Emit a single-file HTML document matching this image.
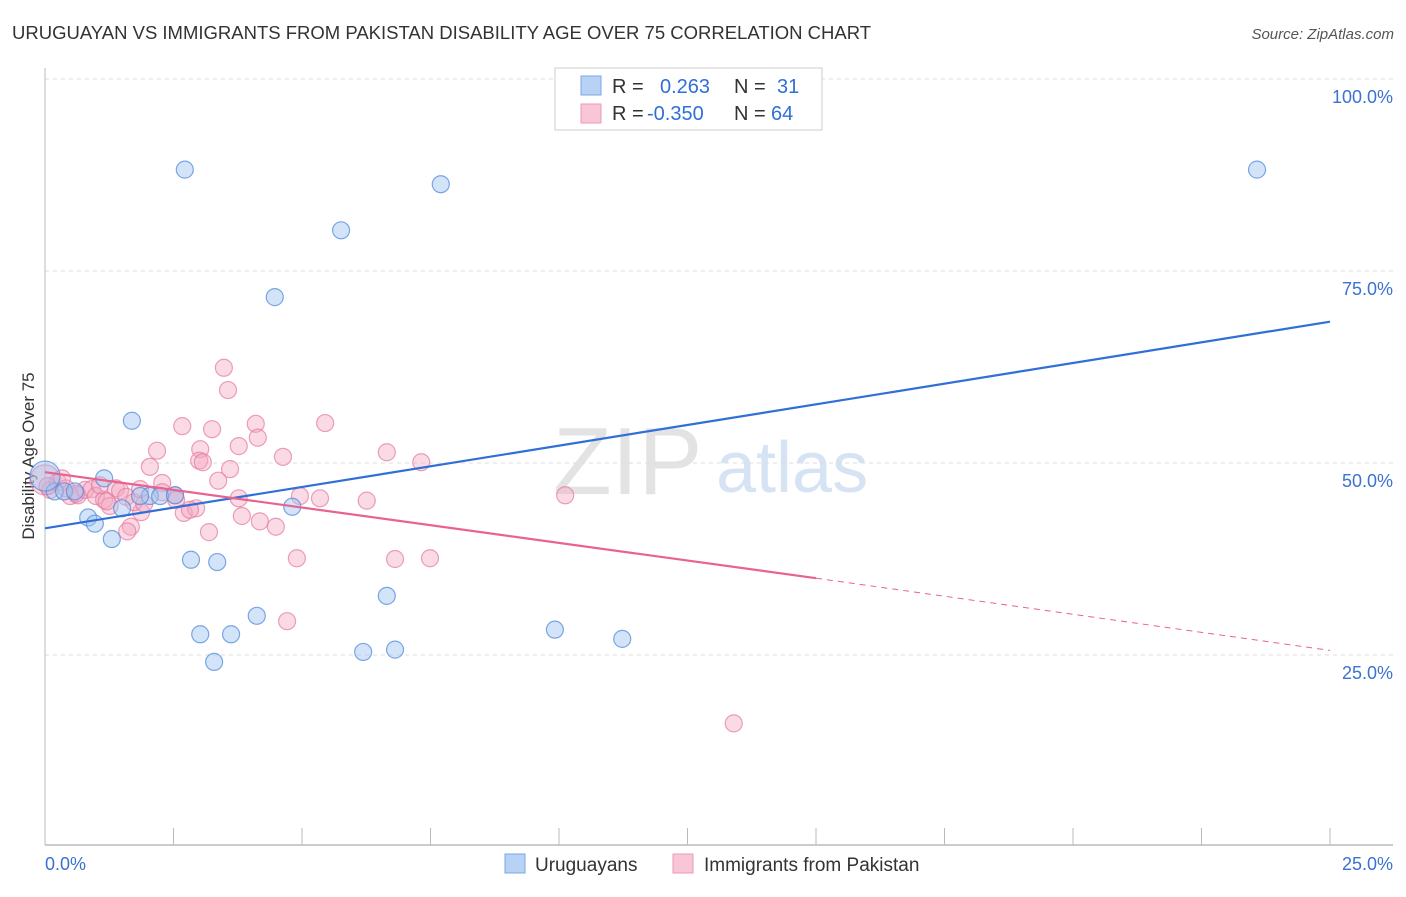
<!DOCTYPE html>
<html><head><meta charset="utf-8"><style>
body{margin:0;background:#fff;font-family:"Liberation Sans",sans-serif}
svg text{font-family:"Liberation Sans",sans-serif}
</style></head><body>
<svg id="chart" width="1406" height="892" xmlns="http://www.w3.org/2000/svg">
<text x="12" y="39" font-size="18.5" fill="#333">URUGUAYAN VS IMMIGRANTS FROM PAKISTAN DISABILITY AGE OVER 75 CORRELATION CHART</text>
<text x="1394" y="39" font-size="15" fill="#555" font-style="italic" text-anchor="end">Source: ZipAtlas.com</text>
<g>
<text x="553" y="494" font-size="96" font-family="Liberation Serif" fill="#d8d8d8" opacity="0.7">ZIP</text>
<text x="716" y="492" font-size="72" fill="#c5d8f0" opacity="0.7">atlas</text>
</g>
<g id="grid"></g>
<g id="axes"></g>
<text transform="translate(34,456) rotate(-90)" font-size="17" fill="#333" text-anchor="middle">Disability Age Over 75</text>
<g id="pts"></g>
<g id="lines"></g>
<g>
<rect x="555" y="68" width="267" height="62" fill="#fff" stroke="#ccc"/>
<rect x="581" y="76" width="20" height="19" fill="#b7d2f5" stroke="#7aa7e6"/>
<rect x="581" y="104" width="20" height="19" fill="#f9c6d6" stroke="#ec9ab5"/>
<text x="612" y="93" font-size="20" fill="#333">R = <tspan fill="#2f6fd6" x="660">0.263</tspan><tspan fill="#333" x="734">N = </tspan><tspan fill="#2f6fd6" x="777">31</tspan></text>
<text x="612" y="120" font-size="20" fill="#333">R = <tspan fill="#2f6fd6" x="647">-0.350</tspan><tspan fill="#333" x="734">N = </tspan><tspan fill="#2f6fd6" x="771">64</tspan></text>
</g>
<g>
<rect x="505" y="854" width="20" height="19" fill="#b7d2f5" stroke="#7aa7e6"/>
<text x="535" y="871" font-size="19" fill="#333">Uruguayans</text>
<rect x="673" y="854" width="20" height="19" fill="#f9c6d6" stroke="#ec9ab5"/>
<text x="704" y="871" font-size="19" fill="#333">Immigrants from Pakistan</text>
</g>
</svg>
<script>
const xTicks=[0,2.5,5,7.5,10,12.5,15,17.5,20,22.5,25];
const yTicks=[25,50,75,100];
const yTickLabels=["25.0%","50.0%","75.0%","100.0%"];
const xLabels=["0.0%","25.0%"];
const blueX=[2.72,7.70,23.58,5.76,4.47,1.69,1.15,0.19,0.37,0.58,0.84,0.97,1.30,1.50,2.04,2.24,2.53,4.81,2.84,3.35,3.02,3.62,4.12,3.29,6.65,6.19,6.81,9.92,11.23,0,1.85];
const blueY=[88.2,86.3,88.2,80.3,71.6,55.5,48.0,46.3,46.3,46.3,42.9,42.1,40.1,44.1,45.7,45.7,45.8,44.3,37.4,37.1,27.7,27.7,30.1,24.1,32.7,25.4,25.7,28.3,27.1,48.3,45.7];
const blueBig=[29];
const pinkX=[3.48,3.56,2.67,3.25,4.10,5.45,3.77,4.14,3.02,2.18,6.65,4.63,3.00,3.07,7.32,2.04,3.60,3.37,2.28,3.77,4.96,5.35,6.26,10.12,2.70,2.94,2.82,3.83,3.19,4.49,1.67,1.60,1.87,4.90,6.81,7.49,4.71,13.40,0,0.10,0.25,0.41,0.49,0.64,0.78,0.91,0.99,1.15,1.26,1.38,1.46,1.58,1.73,1.93,2.28,2.53,2.55,0.33,1.07,1.85,4.18,0.05,0.6,1.2];
const pinkY=[62.4,59.5,54.8,54.4,55.1,55.2,52.2,53.3,51.8,51.6,51.4,50.8,50.3,50.1,50.1,49.5,49.2,47.7,47.4,45.4,45.7,45.4,45.1,45.8,43.5,44.1,43.9,43.1,41.0,41.7,41.7,41.1,43.6,37.6,37.5,37.6,29.4,16.1,47.8,46.5,47.5,46.7,45.7,45.8,46.5,46.6,45.7,45.2,44.4,46.7,46.4,45.6,44.9,44.7,46.2,45.8,45.2,48.0,47.1,46.6,42.4,47.0,46.0,45.0];
const pinkBig=[38];
const blueLine=[[0,41.5],[25,68.4]];
const pinkSolid=[[0,48.8],[15,35.0]];
const pinkDash=[[15,35.0],[25,25.6]];
const X=v=>45+v*(1330-45)/25, Y=v=>847-v*7.68;
const NS="http://www.w3.org/2000/svg";
function mk(tag,attrs,parent){const e=document.createElementNS(NS,tag);for(const k in attrs)e.setAttribute(k,attrs[k]);parent.appendChild(e);return e;}
const gridG=document.getElementById('grid'),axesG=document.getElementById('axes'),ptsG=document.getElementById('pts'),linesG=document.getElementById('lines');
yTicks.forEach((t,i)=>{
 const g=mk('line',{x1:45,x2:1393,y1:Y(t),y2:Y(t),stroke:'#ddd','stroke-dasharray':'4,4'},gridG);
 
 
 const l=mk('text',{x:1393,y:Y(t)+24,'font-size':18,fill:'#3b72d0','text-anchor':'end'},axesG);
 l.textContent=yTickLabels[i];
 
 
});
const topGrid=mk('line',{x1:45,x2:1393,y1:79,y2:79,stroke:'#ddd','stroke-dasharray':'4,4'},gridG);


const ya=mk('line',{x1:45,x2:45,y1:68,y2:845,stroke:'#bbb'},axesG);


const xa=mk('line',{x1:45,x2:1393,y1:845,y2:845,stroke:'#bbb','stroke-width':1.5},axesG);


xTicks.forEach(t=>{
 const k=mk('line',{x1:X(t),x2:X(t),y1:828,y2:845,stroke:'#bbb'},axesG);
 
 
});
[[0,'start'],[25,'end']].forEach((p,i)=>{
 const l=mk('text',{x:i?1393:45,y:870,'font-size':18,fill:'#3b72d0','text-anchor':p[1]},axesG);
 l.textContent=xLabels[i];
 
 
});
function dots(xs,ys,big,fill,stroke,name){
 xs.forEach((x,i)=>{
  const c=mk('circle',{cx:X(x),cy:Y(ys[i]),r:big.includes(i)?15:8.5,fill:fill,stroke:stroke,'stroke-width':1.2},ptsG);
  
  
 });
}
dots(pinkX,pinkY,pinkBig,'rgba(244,168,194,0.42)','rgba(230,120,160,0.7)','pakistan-point');
dots(blueX,blueY,blueBig,'rgba(160,196,240,0.45)','rgba(80,140,220,0.75)','uruguayan-point');
function ln(p,stroke,w,dash,name){
 const a={x1:X(p[0][0]),y1:Y(p[0][1]),x2:X(p[1][0]),y2:Y(p[1][1]),stroke:stroke,'stroke-width':w};
 if(dash)a['stroke-dasharray']=dash;
 const e=mk('line',a,linesG);
 
 
}
ln(blueLine,'#2f6fd6',2.2,null,'uruguayan-trendline');
ln(pinkSolid,'#e8638f',2.2,null,'pakistan-trendline');
ln(pinkDash,'#e8638f',1,'6,5','pakistan-trendline-extension');
</script>
</body></html>
